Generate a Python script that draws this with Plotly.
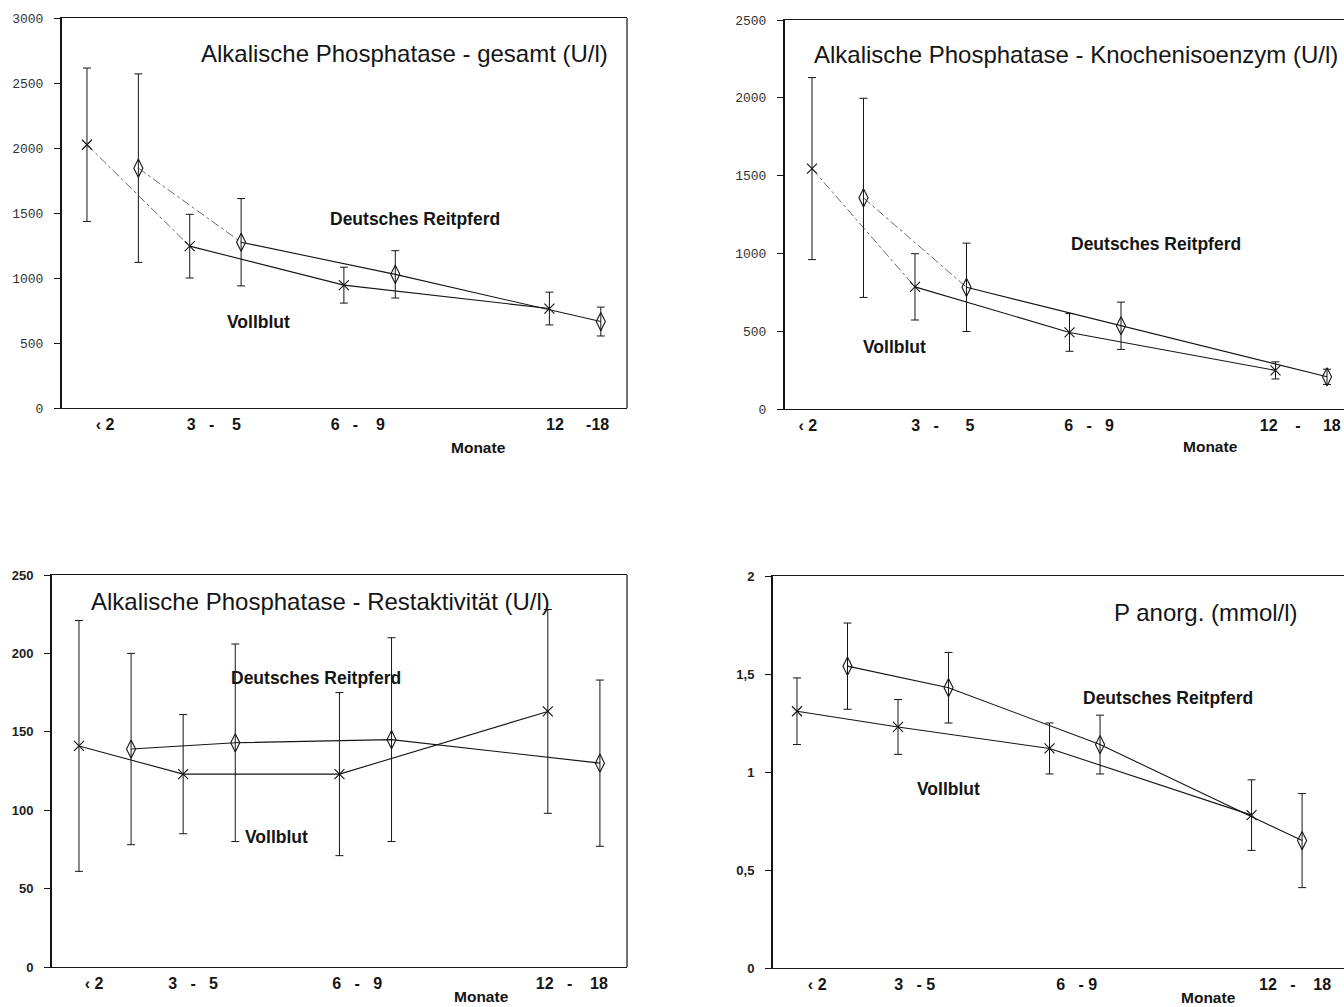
import plotly.graph_objects as go

W, H = 1344, 1007

# ---------------- data ----------------
# slot index of each age group on the x axis (Vollblut / Deutsches Reitpferd side by side)
slots_vollblut = [0, 2, 5, 9]
slots_reitpferd = [1, 3, 6, 10]

age_groups = ["‹ 2", "3 - 5", "6 - 9", "12 - 18"]

# Alkalische Phosphatase - gesamt (U/l)
ap_total_vollblut = [2025, 1245, 945, 765]
ap_total_vollblut_sd = [590, 245, 138, 126]
ap_total_reitpferd = [1845, 1275, 1028, 665]
ap_total_reitpferd_sd = [725, 336, 182, 111]

# Alkalische Phosphatase - Knochenisoenzym (U/l)
ap_bone_vollblut = [1545, 785, 492, 248]
ap_bone_vollblut_sd = [585, 213, 121, 55]
ap_bone_reitpferd = [1357, 782, 535, 207]
ap_bone_reitpferd_sd = [640, 284, 152, 49]

# Alkalische Phosphatase - Restaktivität (U/l)
ap_rest_vollblut = [141, 123, 123, 163]
ap_rest_vollblut_sd = [80, 38, 52, 65]
ap_rest_reitpferd = [139, 143, 145, 130]
ap_rest_reitpferd_sd = [61, 63, 65, 53]

# P anorg. (mmol/l)
p_vollblut = [1.31, 1.23, 1.12, 0.78]
p_vollblut_sd = [0.17, 0.14, 0.13, 0.18]
p_reitpferd = [1.54, 1.43, 1.14, 0.65]
p_reitpferd_sd = [0.22, 0.18, 0.15, 0.24]


# tick labels (spacing as in the printed figure)
def sp(a, b, c, d):
    return a + "\u00a0" * b + "-" + "\u00a0" * c + d


xtick_text_1 = ["‹\u00a02", sp("3", 3, 4, "5"), sp("6", 3, 4, "9"), sp("12", 5, 0, "18")]
xtick_text_2 = ["‹\u00a02", sp("3", 3, 6, "5"), sp("6", 3, 3, "9"), sp("12", 4, 5, "18")]
xtick_text_3 = ["‹\u00a02", sp("3", 3, 3, "5"), sp("6", 3, 3, "9"), sp("12", 3, 4, "18")]
xtick_text_4 = ["‹\u00a02", sp("3", 3, 1, "5"), sp("6", 3, 1, "9"), sp("12", 3, 4, "18")]

ytick_vals_1 = [0, 500, 1000, 1500, 2000, 2500, 3000]
ytick_vals_2 = [0, 500, 1000, 1500, 2000, 2500]
ytick_vals_3 = [0, 50, 100, 150, 200, 250]
ytick_vals_4 = [0, 0.5, 1, 1.5, 2]
ytick_text_4 = ["0", "0,5", "1", "1,5", "2"]

titles = [
    "Alkalische Phosphatase - gesamt (U/l)",
    "Alkalische Phosphatase - Knochenisoenzym (U/l)",
    "Alkalische Phosphatase - Restaktivität (U/l)",
    "P anorg. (mmol/l)",
]


# ---------------- layout helpers ----------------
def px(x):
    return x / W


def py(y):
    return 1 - y / H


INK = "#151515"

panels = [
    dict(vb=ap_total_vollblut, vbsd=ap_total_vollblut_sd, dr=ap_total_reitpferd, drsd=ap_total_reitpferd_sd,
         xd=(62, 627), yd=(18, 408), xr=(-0.486, 10.51), yr=(0, 3000),
         yt=ytick_vals_1, ytt=[str(v) for v in ytick_vals_1], xtv=[0.35, 2.47, 5.27, 9.55], xtt=xtick_text_1,
         tickfont=dict(family="Liberation Mono", size=13, color="#333"), right=True, dashed=True,
         title=(404, 54), dr_lab=(415, 219), vb_lab=(258, 322), monate=(478, 447)),
    dict(vb=ap_bone_vollblut, vbsd=ap_bone_vollblut_sd, dr=ap_bone_reitpferd, drsd=ap_bone_reitpferd_sd,
         xd=(785, 1344), yd=(20, 409), xr=(-0.524, 10.33), yr=(0, 2500),
         yt=ytick_vals_2, ytt=[str(v) for v in ytick_vals_2], xtv=[-0.08, 2.54, 5.38, 9.48], xtt=xtick_text_2,
         tickfont=dict(family="Liberation Mono", size=13, color="#333"), right=False, dashed=True,
         title=(1076, 55), dr_lab=(1156, 244), vb_lab=(894, 347), monate=(1210, 446)),
    dict(vb=ap_rest_vollblut, vbsd=ap_rest_vollblut_sd, dr=ap_rest_reitpferd, drsd=ap_rest_reitpferd_sd,
         xd=(52, 627), yd=(575, 967), xr=(-0.518, 10.52), yr=(0, 250),
         yt=ytick_vals_3, ytt=[str(v) for v in ytick_vals_3], xtv=[0.29, 2.19, 5.34, 9.46], xtt=xtick_text_3,
         tickfont=dict(family="Liberation Sans", size=13, color="#222", weight="bold"), right=True, dashed=False,
         title=(320, 601), dr_lab=(316, 678), vb_lab=(276, 837), monate=(481, 996)),
    dict(vb=p_vollblut, vbsd=p_vollblut_sd, dr=p_reitpferd, drsd=p_reitpferd_sd,
         xd=(773, 1344), yd=(576, 968), xr=(-0.475, 10.83), yr=(0, 2),
         yt=ytick_vals_4, ytt=ytick_text_4, xtv=[0.40, 2.33, 5.54, 9.86], xtt=xtick_text_4,
         tickfont=dict(family="Liberation Sans", size=13, color="#222", weight="bold"), right=False, dashed=False,
         title=(1206, 612), dr_lab=(1168, 698), vb_lab=(948, 789), monate=(1208, 997)),
]

fig = go.Figure()
annotations = []
shapes = []

for i, p in enumerate(panels):
    n = "" if i == 0 else str(i + 1)
    xa, ya = "x" + n, "y" + n

    for xs, ys, sds, sym, msize in [
        (slots_vollblut, p["vb"], p["vbsd"], "x-thin-open", 10),
        (slots_reitpferd, p["dr"], p["drsd"], "diamond-tall-open", 13),
    ]:
        k = 1 if p["dashed"] else 0
        if k:
            fig.add_trace(go.Scatter(x=xs[:k + 1], y=ys[:k + 1], mode="lines", xaxis=xa, yaxis=ya,
                                     line=dict(color="#6a6a6a", width=1, dash="dashdot"),
                                     showlegend=False, hoverinfo="skip"))
        fig.add_trace(go.Scatter(x=xs[k:], y=ys[k:], mode="lines", xaxis=xa, yaxis=ya,
                                 line=dict(color=INK, width=1.1), showlegend=False, hoverinfo="skip"))
        fig.add_trace(go.Scatter(x=xs, y=ys, mode="markers", xaxis=xa, yaxis=ya,
                                 marker=dict(symbol=sym, size=msize, color=INK, line=dict(color=INK, width=1.1)),
                                 error_y=dict(type="data", array=sds, visible=True, color=INK,
                                              thickness=1, width=4),
                                 showlegend=False))

    fig.update_layout(**{
        "xaxis" + n: dict(domain=[px(p["xd"][0]), px(p["xd"][1])], range=list(p["xr"]), anchor=ya,
                          automargin=False,
                          showgrid=False, zeroline=False, showline=True, linecolor=INK, linewidth=1.3,
                          mirror=True, ticks="", tickvals=p["xtv"], ticktext=p["xtt"],
                          tickfont=dict(family="Liberation Sans", size=16, color=INK, weight="bold"),
                          ticklabelstandoff=2, fixedrange=True),
        "yaxis" + n: dict(domain=[py(p["yd"][1]), py(p["yd"][0])], range=list(p["yr"]), anchor=xa,
                          automargin=False,
                          showgrid=False, zeroline=False, showline=True, linecolor=INK, linewidth=2,
                          ticks="outside", ticklen=6, tickwidth=1, tickcolor=INK,
                          tickvals=p["yt"], ticktext=p["ytt"], tickfont=p["tickfont"],
                          ticklabelstandoff=8, fixedrange=True),
    })

    if p["right"]:
        shapes.append(dict(type="line", xref=xa + " domain", yref=ya + " domain", x0=1, x1=1, y0=0, y1=1,
                           line=dict(color=INK, width=1.2)))

    annotations.append(dict(text=titles[i], x=px(p["title"][0]), y=py(p["title"][1]), xref="paper", yref="paper",
                            showarrow=False, xanchor="center", yanchor="middle",
                            font=dict(family="Liberation Sans", size=24, color=INK)))
    for lab, pos in [("Deutsches Reitpferd", p["dr_lab"]), ("Vollblut", p["vb_lab"]), ("Monate", p["monate"])]:
        annotations.append(dict(text=lab, x=px(pos[0]), y=py(pos[1]), xref="paper", yref="paper",
                                showarrow=False, xanchor="center", yanchor="middle",
                                font=dict(family="Liberation Sans", size=15.5 if lab == "Monate" else 17.5,
                                          color=INK, weight="bold")))

fig.update_layout(
    template="none",
    width=W, height=H,
    margin=dict(l=0, r=0, t=0, b=0, autoexpand=False),
    paper_bgcolor="white", plot_bgcolor="white",
    showlegend=False,
    annotations=annotations,
    shapes=shapes,
)

fig.write_html(
    "out.html",
    config={"displayModeBar": False},
    post_script="document.body.style.margin='0';document.body.style.padding='0';"
                "document.documentElement.style.overflow='hidden';",
)
